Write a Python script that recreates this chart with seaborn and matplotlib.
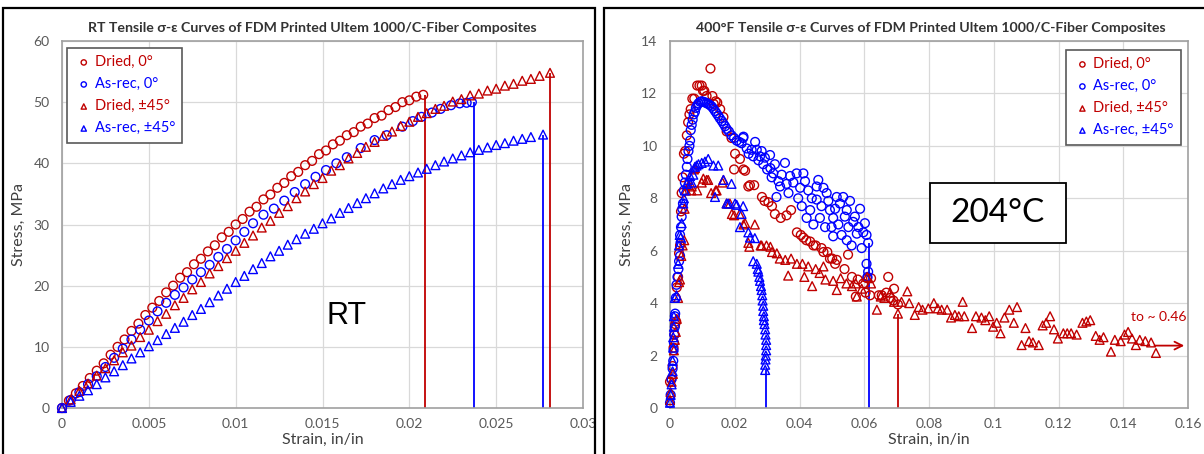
import pandas as pd
import matplotlib
matplotlib.use("Agg")
import matplotlib.pyplot as plt
import seaborn as sns
from matplotlib.patches import Rectangle
from matplotlib.ticker import MultipleLocator, FuncFormatter

RED = "#C00000"
BLUE = "#0000FF"

# ---------- DATA: room temperature ----------
rt_dried0_strain = [0.0000, 0.0004, 0.0008, 0.0012, 0.0016, 0.0020, 0.0024, 0.0028, 0.0032, 0.0036,
                    0.0040, 0.0044, 0.0048, 0.0052, 0.0056, 0.0060, 0.0064, 0.0068, 0.0072, 0.0076,
                    0.0080, 0.0084, 0.0088, 0.0092, 0.0096, 0.0100, 0.0104, 0.0108, 0.0112, 0.0116,
                    0.0120, 0.0124, 0.0128, 0.0132, 0.0136, 0.0140, 0.0144, 0.0148, 0.0152, 0.0156,
                    0.0160, 0.0164, 0.0168, 0.0172, 0.0176, 0.0180, 0.0184, 0.0188, 0.0192, 0.0196,
                    0.0200, 0.0204, 0.0208]
rt_dried0_stress = [0.0, 1.2, 2.4, 3.6, 4.9, 6.1, 7.3, 8.7, 10.0, 11.2,
                    12.6, 13.8, 15.2, 16.4, 17.5, 18.9, 20.0, 21.3, 22.2, 23.5,
                    24.4, 25.6, 26.6, 27.9, 28.8, 30.0, 30.9, 32.1, 32.9, 34.1,
                    34.9, 36.0, 36.8, 37.9, 38.6, 39.7, 40.4, 41.5, 42.1, 43.1,
                    43.7, 44.6, 45.1, 46.0, 46.5, 47.4, 47.8, 48.7, 49.2, 50.0,
                    50.3, 50.9, 51.2]

rt_asrec0_strain = [0.0000, 0.0005, 0.0010, 0.0015, 0.0020, 0.0025, 0.0030, 0.0035, 0.0040, 0.0045,
                    0.0050, 0.0055, 0.0060, 0.0065, 0.0070, 0.0075, 0.0080, 0.0085, 0.0090, 0.0095,
                    0.0100, 0.0105, 0.0110, 0.0116, 0.0122, 0.0128, 0.0134, 0.0140, 0.0146, 0.0152,
                    0.0158, 0.0164, 0.0172, 0.0180, 0.0187, 0.0196, 0.0202, 0.0207, 0.0213, 0.0218,
                    0.0224, 0.0229, 0.0233, 0.0236]
rt_asrec0_stress = [0.0, 1.3, 2.6, 3.9, 5.2, 6.7, 8.2, 9.7, 11.2, 12.8,
                    14.3, 15.8, 17.2, 18.5, 19.7, 21.0, 22.2, 23.4, 24.7, 26.0,
                    27.4, 28.8, 30.2, 31.6, 32.6, 33.9, 35.3, 36.6, 37.8, 38.9,
                    40.0, 41.0, 42.5, 43.8, 44.6, 46.0, 46.9, 47.6, 48.3, 48.9,
                    49.5, 49.8, 49.9, 50.0]

rt_dried45_strain = [0.0000, 0.0005, 0.0010, 0.0015, 0.0020, 0.0025, 0.0030, 0.0035, 0.0040, 0.0045,
                     0.0050, 0.0055, 0.0060, 0.0065, 0.0070, 0.0075, 0.0080, 0.0085, 0.0090, 0.0095,
                     0.0100, 0.0105, 0.0110, 0.0115, 0.0120, 0.0125, 0.0130, 0.0135, 0.0140, 0.0145,
                     0.0150, 0.0155, 0.0160, 0.0165, 0.0170, 0.0175, 0.0180, 0.0185, 0.0190, 0.0195,
                     0.0200, 0.0205, 0.0210, 0.0215, 0.0220, 0.0225, 0.0230, 0.0235, 0.0240, 0.0245,
                     0.0250, 0.0255, 0.0260, 0.0265, 0.0270, 0.0275, 0.0281]
rt_dried45_stress = [0.0, 1.4, 2.8, 4.0, 5.3, 6.5, 7.8, 9.1, 10.2, 11.6,
                     12.8, 14.2, 15.4, 16.8, 18.0, 19.4, 20.6, 22.0, 23.2, 24.5,
                     25.7, 27.0, 28.2, 29.5, 30.6, 31.9, 33.0, 34.3, 35.4, 36.6,
                     37.6, 38.8, 39.7, 40.8, 41.7, 42.7, 43.5, 44.5, 45.2, 46.1,
                     46.8, 47.6, 48.2, 48.9, 49.4, 50.1, 50.5, 51.1, 51.4, 51.9,
                     52.2, 52.7, 53.0, 53.5, 53.8, 54.3, 54.8]

rt_asrec45_strain = [0.0000, 0.0005, 0.0010, 0.0015, 0.0020, 0.0025, 0.0030, 0.0035, 0.0040, 0.0045,
                     0.0050, 0.0055, 0.0060, 0.0065, 0.0070, 0.0075, 0.0080, 0.0085, 0.0090, 0.0095,
                     0.0100, 0.0105, 0.0110, 0.0115, 0.0120, 0.0125, 0.0130, 0.0135, 0.0140, 0.0145,
                     0.0150, 0.0155, 0.0160, 0.0165, 0.0170, 0.0175, 0.0180, 0.0185, 0.0190, 0.0195,
                     0.0200, 0.0205, 0.0210, 0.0215, 0.0220, 0.0225, 0.0230, 0.0235, 0.0240, 0.0245,
                     0.0250, 0.0255, 0.0260, 0.0265, 0.0270, 0.0277]
rt_asrec45_stress = [0.0, 1.0, 2.0, 2.9, 3.9, 5.0, 6.0, 7.0, 8.1, 9.1,
                     10.1, 11.1, 12.1, 13.1, 14.1, 15.2, 16.2, 17.3, 18.4, 19.5,
                     20.6, 21.6, 22.7, 23.7, 24.8, 25.7, 26.7, 27.6, 28.5, 29.3,
                     30.2, 31.0, 31.9, 32.7, 33.5, 34.3, 35.1, 35.9, 36.6, 37.3,
                     37.9, 38.5, 39.1, 39.7, 40.3, 40.8, 41.3, 41.8, 42.2, 42.6,
                     43.0, 43.3, 43.7, 44.0, 44.3, 44.7]

# failure drop lines (strain, last stress)
rt_fail_strain = [0.0209, 0.0237, 0.0277, 0.0281]
rt_fail_stress = [51.2, 50.0, 44.7, 54.8]
rt_fail_color = [RED, BLUE, BLUE, RED]

# ---------- DATA: 400 F ----------
hot_dried0 = [(0.0000, 1.0), (0.0004, 1.1), (0.0008, 1.6), (0.0011, 2.3), (0.0014, 2.8), (0.0016, 3.2),
              (0.0019, 3.3), (0.0021, 4.6), (0.0025, 5.0), (0.0028, 5.9), (0.0031, 6.2), (0.0034, 7.5),
              (0.0036, 8.2), (0.0039, 8.8), (0.0043, 9.7), (0.0047, 9.8), (0.0052, 10.4), (0.0056, 10.9),
              (0.0060, 11.2), (0.0064, 11.4), (0.0069, 11.8), (0.0075, 11.8), (0.0084, 12.3), (0.0091, 12.3),
              (0.0098, 12.3), (0.0102, 12.1), (0.0106, 12.1), (0.0113, 11.9), (0.0125, 12.95), (0.0131, 11.9),
              (0.0135, 11.6), (0.0141, 11.7), (0.0146, 11.65), (0.0155, 11.4), (0.0165, 11.1), (0.0175, 10.55),
              (0.0190, 10.3), (0.0198, 9.1), (0.0201, 9.7), (0.0216, 9.5), (0.0227, 9.1), (0.0232, 9.05),
              (0.0242, 8.45), (0.0247, 8.5), (0.0260, 8.5), (0.0284, 8.05), (0.0292, 7.9), (0.0304, 7.85),
              (0.0315, 7.7), (0.0324, 7.4), (0.0342, 7.25), (0.0360, 7.35), (0.0374, 7.55), (0.0392, 6.7),
              (0.0404, 6.6), (0.0412, 6.5), (0.0421, 6.4), (0.0433, 6.35), (0.0443, 6.2), (0.0450, 6.2),
              (0.0468, 6.1), (0.0474, 5.95), (0.0486, 5.95), (0.0494, 5.7), (0.0501, 5.7), (0.0510, 5.5),
              (0.0515, 5.65), (0.0539, 5.3), (0.0550, 5.85), (0.0562, 5.0), (0.0574, 4.25), (0.0580, 4.9),
              (0.0597, 4.75), (0.0604, 4.4), (0.0609, 4.95), (0.0618, 4.3), (0.0621, 4.95), (0.0645, 4.3),
              (0.0654, 4.3), (0.0668, 4.4), (0.0674, 5.0), (0.0680, 4.2), (0.0690, 4.1), (0.0692, 4.55),
              (0.0704, 3.95)]

hot_asrec0 = [(0.0000, 0.2), (0.0002, 0.5), (0.0005, 1.1), (0.0008, 1.5), (0.0010, 1.8), (0.0011, 2.2),
              (0.0012, 2.5), (0.0013, 2.8), (0.0015, 3.1), (0.0015, 3.5), (0.0016, 3.6), (0.0018, 4.2),
              (0.0020, 4.7), (0.0023, 5.0), (0.0026, 5.3), (0.0028, 5.6), (0.0031, 5.8), (0.0033, 6.3),
              (0.0031, 6.6), (0.0034, 6.9), (0.0036, 7.3), (0.0038, 7.6), (0.0040, 7.8), (0.0043, 8.3),
              (0.0046, 8.6), (0.0049, 8.9), (0.0052, 9.2), (0.0054, 9.5), (0.0057, 9.8), (0.0060, 10.0),
              (0.0062, 10.2), (0.0064, 10.6), (0.0067, 10.8), (0.0070, 11.0), (0.0073, 11.2), (0.0077, 11.3),
              (0.0080, 11.45), (0.0084, 11.55), (0.0088, 11.62), (0.0093, 11.68), (0.0098, 11.7), (0.0103, 11.68),
              (0.0108, 11.66), (0.0113, 11.63), (0.0118, 11.6), (0.0124, 11.55), (0.0129, 11.5), (0.0134, 11.42),
              (0.0139, 11.33), (0.0144, 11.24), (0.0149, 11.15), (0.0154, 11.05), (0.0160, 10.95), (0.0165, 10.85),
              (0.0170, 10.75), (0.0175, 10.65), (0.0182, 10.55), (0.0190, 10.4), (0.0198, 10.3), (0.0206, 10.2),
              (0.0214, 10.15), (0.0221, 10.1), (0.0226, 10.3), (0.0227, 10.35), (0.0237, 9.9), (0.0243, 9.7),
              (0.0252, 9.85), (0.0257, 9.6), (0.0263, 10.15), (0.0268, 9.85), (0.0273, 9.45), (0.0278, 9.6),
              (0.0283, 9.8), (0.0288, 9.3), (0.0293, 9.55), (0.0300, 9.1), (0.0309, 9.65), (0.0310, 9.15),
              (0.0314, 8.8), (0.0319, 8.95), (0.0324, 9.3), (0.0329, 8.05), (0.0335, 8.65), (0.0340, 8.45),
              (0.0345, 8.9), (0.0355, 9.35), (0.0360, 8.55), (0.0366, 8.2), (0.0371, 8.85), (0.0381, 8.6),
              (0.0391, 8.95), (0.0396, 8.0), (0.0402, 8.4), (0.0407, 7.7), (0.0412, 8.95), (0.0417, 8.65),
              (0.0422, 7.25), (0.0427, 8.3), (0.0433, 7.55), (0.0438, 8.0), (0.0443, 7.0), (0.0453, 8.45),
              (0.0453, 7.95), (0.0458, 8.7), (0.0463, 7.25), (0.0468, 7.7), (0.0474, 8.4), (0.0479, 6.9),
              (0.0484, 8.2), (0.0489, 7.9), (0.0494, 7.55), (0.0499, 6.9), (0.0504, 7.25), (0.0504, 6.55),
              (0.0510, 7.6), (0.0515, 8.05), (0.0520, 7.0), (0.0525, 7.8), (0.0530, 6.6), (0.0535, 8.05),
              (0.0540, 7.3), (0.0546, 7.55), (0.0546, 6.4), (0.0551, 6.9), (0.0556, 7.9), (0.0561, 6.2),
              (0.0566, 7.1), (0.0571, 7.3), (0.0577, 6.65), (0.0582, 6.9), (0.0587, 7.6), (0.0592, 6.1),
              (0.0597, 6.7), (0.0602, 7.05), (0.0607, 6.6), (0.0612, 6.3), (0.0607, 5.5), (0.0612, 5.2),
              (0.0610, 5.0)]

hot_dried45 = [(0.0000, 0.3), (0.0002, 0.6), (0.0005, 1.0), (0.0009, 1.3), (0.0012, 2.2), (0.0015, 2.6),
               (0.0018, 2.9), (0.0021, 3.4), (0.0025, 4.2), (0.0028, 4.8), (0.0031, 4.9), (0.0035, 5.8),
               (0.0039, 6.2), (0.0044, 6.4), (0.0045, 7.6), (0.0050, 8.3), (0.0058, 8.5), (0.0066, 8.3),
               (0.0067, 8.45), (0.0074, 9.1), (0.0077, 9.15), (0.0084, 8.3), (0.0098, 8.6), (0.0103, 8.75),
               (0.0113, 8.7), (0.0118, 8.7), (0.0127, 8.2), (0.0141, 8.3), (0.0144, 8.3), (0.0162, 8.6),
               (0.0165, 8.7), (0.0175, 7.8), (0.0185, 7.8), (0.0191, 7.4), (0.0198, 7.35), (0.0215, 7.4),
               (0.0227, 7.0), (0.0232, 7.05), (0.0242, 6.3), (0.0245, 6.15), (0.0262, 7.0), (0.0280, 6.2),
               (0.0283, 6.2), (0.0298, 6.2), (0.0310, 6.15), (0.0315, 5.95), (0.0330, 5.9), (0.0339, 5.7),
               (0.0356, 5.65), (0.0365, 5.05), (0.0374, 5.7), (0.0392, 5.5), (0.0409, 5.5), (0.0415, 5.0),
               (0.0427, 5.4), (0.0439, 4.65), (0.0450, 5.3), (0.0462, 5.15), (0.0474, 5.4), (0.0480, 4.9),
               (0.0504, 4.85), (0.0515, 4.5), (0.0527, 4.95), (0.0545, 4.75), (0.0562, 4.65), (0.0574, 4.75),
               (0.0577, 4.25), (0.0592, 4.55), (0.0609, 5.0), (0.0621, 4.75), (0.0639, 3.75), (0.0651, 4.25),
               (0.0662, 4.2), (0.0680, 4.4), (0.0692, 4.05), (0.0704, 3.6), (0.0715, 4.05), (0.0733, 4.45),
               (0.0739, 4.0), (0.0756, 3.55), (0.0768, 3.85), (0.0780, 3.75), (0.0798, 3.8), (0.0815, 4.0),
               (0.0827, 3.8), (0.0839, 3.75), (0.0856, 3.75), (0.0868, 3.45), (0.0880, 3.55), (0.0892, 3.5),
               (0.0904, 4.05), (0.0909, 3.5), (0.0933, 3.05), (0.0945, 3.5), (0.0962, 3.45), (0.0974, 3.35),
               (0.0986, 3.5), (0.0998, 3.1), (0.1009, 3.25), (0.1021, 2.85), (0.1033, 3.45), (0.1048, 3.75),
               (0.1062, 3.25), (0.1072, 3.85), (0.1086, 2.4), (0.1098, 3.05), (0.1109, 2.55), (0.1121, 2.5),
               (0.1139, 2.4), (0.1151, 3.15), (0.1162, 3.25), (0.1174, 3.5), (0.1186, 3.0), (0.1198, 2.65),
               (0.1215, 2.85), (0.1227, 2.85), (0.1239, 2.85), (0.1256, 2.8), (0.1274, 3.25), (0.1286, 3.3),
               (0.1298, 3.35), (0.1315, 2.75), (0.1327, 2.6), (0.1339, 2.7), (0.1362, 2.15), (0.1374, 2.6),
               (0.1392, 2.55), (0.1404, 2.8), (0.1415, 2.9), (0.1427, 2.65), (0.1439, 2.4), (0.1451, 2.6),
               (0.1468, 2.55), (0.1486, 2.5), (0.1501, 2.1)]

hot_asrec45 = [(0.0000, 0.2), (0.0002, 0.5), (0.0005, 0.9), (0.0008, 1.4), (0.0008, 1.8), (0.0010, 2.3),
               (0.0010, 2.7), (0.0012, 3.1), (0.0012, 3.5), (0.0015, 4.2), (0.0020, 4.3), (0.0025, 5.5),
               (0.0028, 6.2), (0.0030, 6.6), (0.0033, 6.5), (0.0036, 7.05), (0.0041, 7.8), (0.0043, 8.0),
               (0.0046, 8.3), (0.0052, 8.55), (0.0057, 8.7), (0.0062, 8.85), (0.0067, 8.6), (0.0072, 8.9),
               (0.0077, 9.2), (0.0082, 9.25), (0.0088, 9.3), (0.0098, 9.35), (0.0108, 9.4), (0.0118, 9.5),
               (0.0134, 9.25), (0.0139, 8.05), (0.0149, 9.25), (0.0165, 8.7), (0.0175, 7.8), (0.0180, 7.8),
               (0.0190, 8.55), (0.0201, 7.8), (0.0206, 7.75), (0.0216, 6.9), (0.0221, 7.4), (0.0226, 7.7),
               (0.0242, 6.7), (0.0247, 6.5), (0.0257, 5.6), (0.0262, 6.48), (0.0268, 5.5), (0.0271, 5.3),
               (0.0273, 5.2), (0.0276, 5.0), (0.0278, 4.85), (0.0281, 4.65), (0.0283, 4.5), (0.0285, 4.3),
               (0.0286, 4.1), (0.0288, 3.9), (0.0288, 3.7), (0.0290, 3.5), (0.0290, 3.35), (0.0292, 3.2),
               (0.0294, 3.0), (0.0295, 2.8), (0.0297, 2.6), (0.0297, 2.4), (0.0297, 2.2), (0.0296, 2.0),
               (0.0295, 1.85), (0.0294, 1.65), (0.0294, 1.45)]

hot_fail_strain = [0.0298, 0.0615, 0.0705]
hot_fail_stress = [1.45, 6.3, 3.6]
hot_fail_color = [BLUE, BLUE, RED]

labels = ["Dried, 0°", "As-rec, 0°", "Dried, ±45°", "As-rec, ±45°"]
markers = ["o", "o", "^", "^"]
colors = [RED, BLUE, RED, BLUE]

# ---------- PLOT ----------
sns.set_theme(style="white")
plt.rcParams["font.family"] = ["Lato", "DejaVu Sans"]

W, H = 1204, 454
fig = plt.figure(figsize=(W / 100, H / 100), dpi=100)
ax1 = fig.add_axes([62 / W, 46 / H, 521 / W, 367 / H])
ax2 = fig.add_axes([670 / W, 46 / H, 518 / W, 367 / H])


def style_axes(ax, xmax, xstep, ymax, ystep):
    ax.set_xlim(0, xmax)
    ax.set_ylim(0, ymax)
    ax.xaxis.set_major_locator(MultipleLocator(xstep))
    ax.yaxis.set_major_locator(MultipleLocator(ystep))
    ax.xaxis.set_major_formatter(FuncFormatter(lambda v, p: f"{v:g}"))
    ax.grid(True, color="#D9D9D9", lw=0.9)
    ax.set_axisbelow(True)
    for sp in ax.spines.values():
        sp.set_color("#A0A0A0")
        sp.set_linewidth(1.2)
    ax.tick_params(axis="x", length=0, pad=7, labelsize=10, labelcolor="#595959")
    ax.tick_params(axis="y", length=0, pad=9, labelsize=10, labelcolor="#595959")
    ax.set_xlabel("Strain, in/in", fontsize=11.5, color="#404040")
    ax.set_ylabel("Stress, MPa", fontsize=11.5, color="#404040")
    ax.xaxis.set_label_coords(0.5, -0.068)
    ax.yaxis.set_label_coords(-0.069, 0.5)


def draw(ax, strain, stress, i):
    df = pd.DataFrame({"strain": strain, "stress": stress})
    sns.scatterplot(data=df, x="strain", y="stress", marker=markers[i], s=40,
                    facecolor="none", edgecolor=colors[i], linewidth=1.0,
                    label=labels[i], ax=ax, clip_on=False, zorder=3)


def add_legend(ax, **kw):
    leg = ax.legend(borderaxespad=0, frameon=True, fancybox=False, edgecolor="#595959",
                    framealpha=1, fontsize=10.5, handletextpad=0.1, labelspacing=0.55,
                    borderpad=0.5, handlelength=1.3, markerscale=0.6, **kw)
    leg.get_frame().set_linewidth(1.2)
    for t, c in zip(leg.get_texts(), colors):
        t.set_color(c)


# RT panel
rt_series = [(rt_dried0_strain, rt_dried0_stress), (rt_asrec0_strain, rt_asrec0_stress),
             (rt_dried45_strain, rt_dried45_stress), (rt_asrec45_strain, rt_asrec45_stress)]
for i, (sx, sy) in enumerate(rt_series):
    draw(ax1, sx, sy, i)
ax1.vlines(rt_fail_strain, 0, rt_fail_stress, colors=rt_fail_color, lw=1.3, zorder=2)
style_axes(ax1, 0.03, 0.005, 60, 10)
add_legend(ax1, loc="upper left", bbox_to_anchor=(0.0096, 0.981))
ax1.text(0.48, 1.035, "RT Tensile σ-ε Curves of FDM Printed Ultem 1000/C-Fiber Composites",
         transform=ax1.transAxes, ha="center", va="center", fontsize=10.2,
         fontweight="bold", color="#333333")
ax1.text(0.0164, 15.0, "RT", ha="center", va="center", fontsize=22,
         family=["Liberation Sans", "DejaVu Sans"], color="black")

# 400F panel
hot_series = [hot_dried0, hot_asrec0, hot_dried45, hot_asrec45]
for i, pts in enumerate(hot_series):
    draw(ax2, [p[0] for p in pts], [p[1] for p in pts], i)
ax2.vlines(hot_fail_strain, 0, hot_fail_stress, colors=hot_fail_color, lw=1.3, zorder=2)
style_axes(ax2, 0.16, 0.02, 14, 2)
add_legend(ax2, loc="upper right", bbox_to_anchor=(0.9865, 0.9755))
ax2.text(0.504, 1.035, "400°F Tensile σ-ε Curves of FDM Printed Ultem 1000/C-Fiber Composites",
         transform=ax2.transAxes, ha="center", va="center", fontsize=10.2,
         fontweight="bold", color="#333333")
ax2.add_patch(Rectangle((0.502, 0.4496), 0.2625, 0.1635, transform=ax2.transAxes,
                        fill=True, fc="white", ec="black", lw=1.3, zorder=4))
ax2.text(0.633, 0.531, "204°C", transform=ax2.transAxes, ha="center", va="center",
         fontsize=24, color="black", zorder=5)
ax2.annotate("", xy=(0.1597, 2.38), xytext=(0.1488, 2.38),
             arrowprops=dict(arrowstyle="->", color=RED, lw=1.3, mutation_scale=14),
             annotation_clip=False, zorder=5)
ax2.text(0.151, 3.47, "to ~ 0.46", ha="center", va="center", fontsize=10, color=RED)

# black frames around the two chart images
fig.patches.append(Rectangle((3 / W, -0.1), 592 / W, 1.1 - 8 / H, transform=fig.transFigure,
                             fill=False, ec="black", lw=1.6))
fig.patches.append(Rectangle((604 / W, -0.1), 0.6, 1.1 - 8 / H, transform=fig.transFigure,
                             fill=False, ec="black", lw=1.6))

fig.savefig("out.png", dpi=100)
